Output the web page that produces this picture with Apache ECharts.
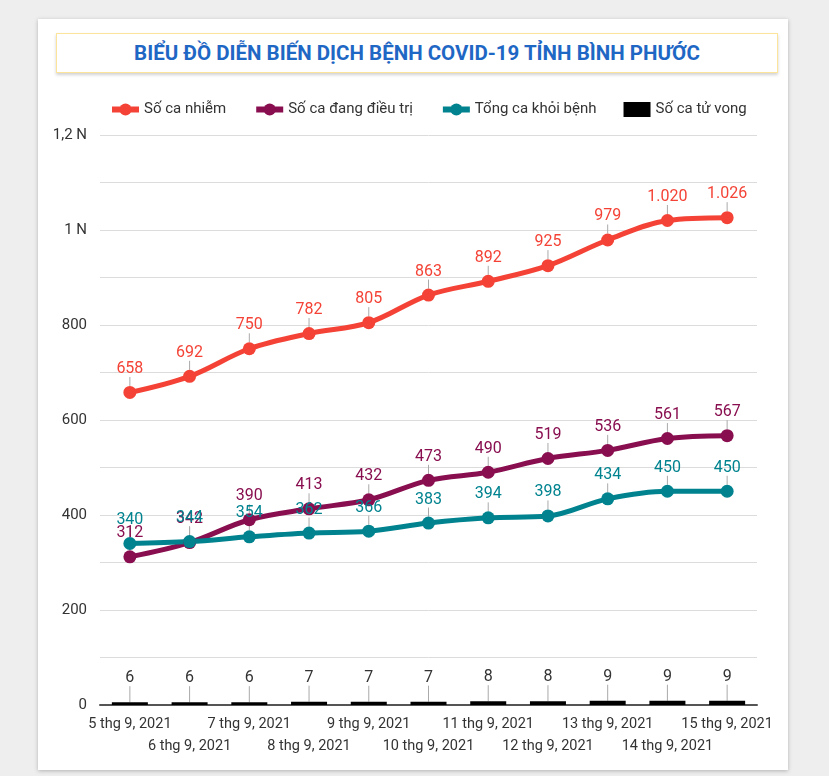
<!DOCTYPE html>
<html>
<head>
<meta charset="utf-8">
<script src="https://cdn.jsdelivr.net/npm/echarts@6/dist/echarts.min.js"></script>
<style>
  html, body { margin:0; padding:0; background:#eeeeee; width:829px; height:776px; overflow:hidden; font-family: Roboto, "Noto Sans", sans-serif; }
  #card { position:absolute; left:38px; top:19px; width:750px; height:751px; background:#fff; box-shadow:0 1px 4px rgba(0,0,0,0.25); }
  #titlebox { position:absolute; left:56px; top:33px; width:720px; height:38px; border:1px solid #fde49b; background:#fff; box-shadow:0 2px 3px rgba(0,0,0,0.18);
    display:flex; align-items:center; justify-content:center; color:#1f67c4; font-weight:bold; font-size:20.5px; font-family: Roboto, sans-serif; }
  #chart { position:absolute; left:0; top:0; width:829px; height:776px; }
</style>
</head>
<body>
<div id="card"></div>
<div id="titlebox">BIỂU ĐỒ DIỄN BIẾN DỊCH BỆNH COVID-19 TỈNH BÌNH PHƯỚC</div>
<div id="chart"></div>
<script>
const categories = ['5 thg 9, 2021','6 thg 9, 2021','7 thg 9, 2021','8 thg 9, 2021','9 thg 9, 2021','10 thg 9, 2021','11 thg 9, 2021','12 thg 9, 2021','13 thg 9, 2021','14 thg 9, 2021','15 thg 9, 2021'];
const infected = [658, 692, 750, 782, 805, 863, 892, 925, 979, 1020, 1026];
const treating = [312, 342, 390, 413, 432, 473, 490, 519, 536, 561, 567];
const recovered = [340, 344, 354, 362, 366, 383, 394, 398, 434, 450, 450];
const deaths = [6, 6, 6, 7, 7, 7, 8, 8, 9, 9, 9];
const yTickLabels = {0:'0', 200:'200', 400:'400', 600:'600', 800:'800', 1000:'1 N', 1200:'1,2 N'};

function fmt(v) {
  const s = String(v);
  return v >= 1000 ? s.slice(0, s.length - 3) + '.' + s.slice(-3) : s;
}

const chart = echarts.init(document.getElementById('chart'), null, {renderer:'canvas'});

function lineSeries(name, data, color) {
  return {
    name, type:'line', data, smooth:0.35,
    symbol:'circle', symbolSize:13,
    lineStyle:{ width:5, color },
    itemStyle:{ color },
    label:{ show:true, position:'top', distance:2, color, fontSize:16, fontFamily:'Roboto',
      formatter: p => fmt(p.value) },
    labelLayout:{ dy:-7 },
    labelLine:{ show:true, lineStyle:{ color:'#aaaaaa', width:1 } },
    emphasis:{ disabled:true }
  };
}

chart.setOption({
  animation:false,
  legend:{
    top:97, left:104,
    itemWidth:27, itemHeight:15, itemGap:27,
    textStyle:{ fontSize:15, color:'#333', fontFamily:'Roboto' },
    data:[
      {name:'Số ca nhiễm', lineStyle:{ width:6 }},
      {name:'Số ca đang điều trị', lineStyle:{ width:6 }},
      {name:'Tổng ca khỏi bệnh', lineStyle:{ width:6 }},
      {name:'Số ca tử vong', icon:'rect'}
    ]
  },
  grid:{ left:100, right:72, top:135, bottom:71 },
  xAxis:{
    type:'category', data:categories, boundaryGap:true,
    axisLine:{ show:true, lineStyle:{ color:'#555', width:2 } },
    axisTick:{ show:false },
    axisLabel:{ interval:0, color:'#333', fontSize:14.5, fontFamily:'Roboto', lineHeight:22, margin:8,
      formatter:(v, i) => i % 2 ? '\n' + v : v }
  },
  yAxis:{
    type:'value', min:0, max:1200, interval:100,
    axisLine:{ show:false }, axisTick:{ show:false },
    splitLine:{ lineStyle:{ color:'#dcdcdc', width:1 } },
    axisLabel:{ color:'#333', fontSize:15, fontFamily:'Roboto', margin:13,
      formatter: v => yTickLabels[v] !== undefined ? yTickLabels[v] : '' }
  },
  series:[
    lineSeries('Số ca nhiễm', infected, '#f44336'),
    lineSeries('Số ca đang điều trị', treating, '#880e4f'),
    lineSeries('Tổng ca khỏi bệnh', recovered, '#00838f'),
    {
      name:'Số ca tử vong', type:'bar', data:deaths, barWidth:36,
      itemStyle:{ color:'#000' },
      label:{ show:true, position:'top', distance:2, color:'#333', fontSize:16, fontFamily:'Roboto' },
      labelLayout:{ dy:-14 },
      labelLine:{ show:true, lineStyle:{ color:'#aaaaaa', width:1 } },
      emphasis:{ disabled:true }
    }
  ]
});
</script>
</body>
</html>
